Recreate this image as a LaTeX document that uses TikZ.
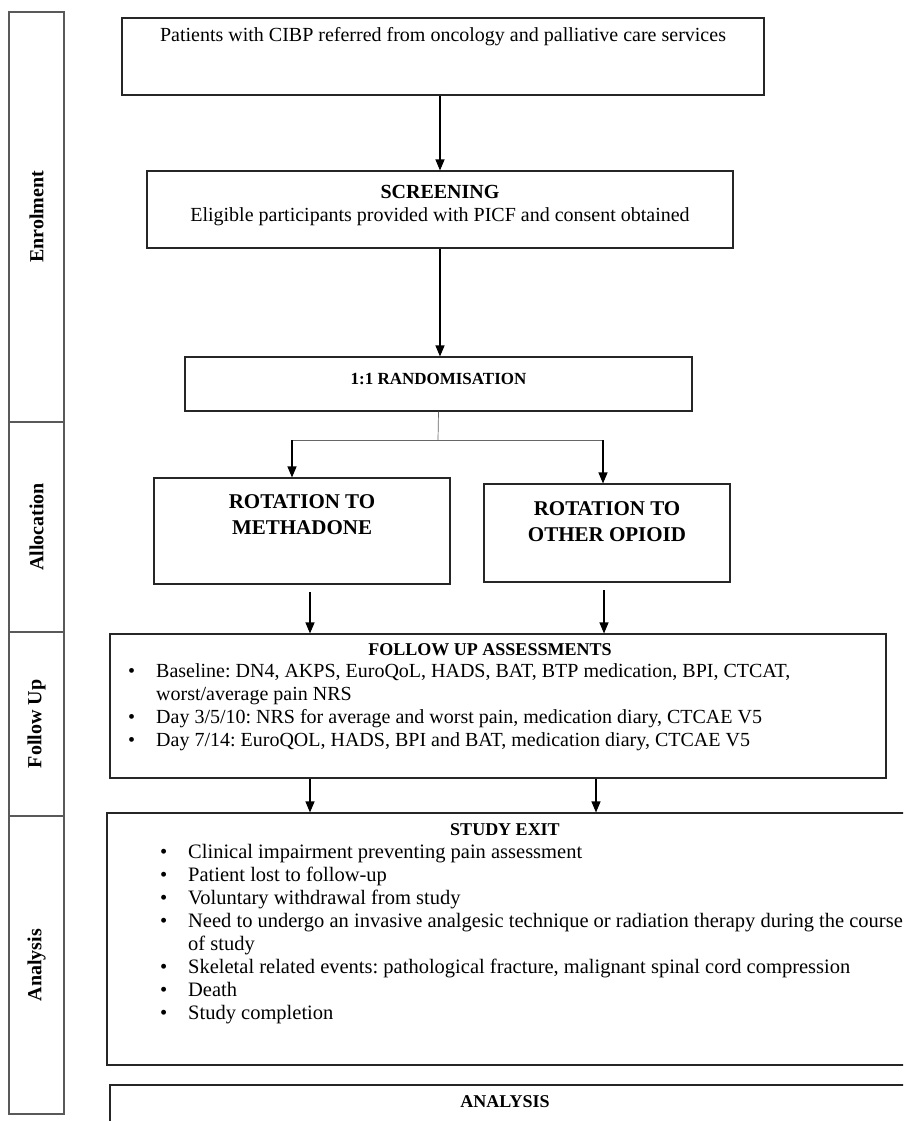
\documentclass[tikz,border=0pt]{standalone}
\usepackage{fontspec}
\setmainfont{Liberation Serif}
\usetikzlibrary{arrows.meta,positioning}
\frenchspacing

\newcommand{\itm}[1]{\makebox[28pt][l]{\textbullet}#1}
\newcommand{\cont}[1]{\hspace*{28pt}#1}

\begin{document}
\begin{tikzpicture}[x=1pt, y=-1pt, > = {Triangle[length=11pt,width=9pt]},
    box/.style = {draw=black!85, line width=1.1pt, inner sep=0pt},
    stage/.style = {draw=black!65, line width=1.1pt, inner sep=0pt, rotate=90, minimum height=55pt, font=\bfseries\fontsize{20}{24}\selectfont},
    txt/.style = {inner sep=0pt, font=\fontsize{20}{23}\selectfont},
    head/.style = {inner sep=0pt, font=\bfseries\fontsize{17}{20}\selectfont},
    list/.style = {inner sep=0pt, anchor=base west, align=left, font=\fontsize{20}{22.8}\selectfont},
    arrow/.style = {->, line width=1.1pt},
    thinline/.style = {draw=black!60, line width=0.7pt}]

    \useasboundingbox (0,0) rectangle (903,1121);
    \clip (0,0) rectangle (903,1121);

    % stages
    \node[stage, minimum width=410pt] (enrol) at (36.5,217) {Enrolment};
    \node[stage, minimum width=210pt] (alloc) at (36.5,527) {Allocation};
    \node[stage, minimum width=184pt] (follow) at (36.5,724) {Follow Up};
    \node[stage, minimum width=298pt] (anal) at (36.5,965) {Analysis};

    % enrolment
    \node[box, minimum width=642pt, minimum height=77pt] (patients) at (443,56.5) {};
    \node[txt] (patientstxt) at (443,37) {Patients with CIBP referred from oncology and palliative care services};

    \node[box, minimum width=586pt, minimum height=77pt] (screen) at (440,209.5) {};
    \node[txt, align=center] (screentxt) at (440,206) {\textbf{SCREENING}\\Eligible participants provided with PICF and consent obtained};

    \node[box, minimum width=507pt, minimum height=54pt] (random) at (438.5,384) {};
    \node[head] (randomtxt) at (438.5,379) {1:1 RANDOMISATION};

    \draw[arrow] (screen.north |- patients.south) -- (screen.north);
    \draw[arrow] (screen.south) -- (screen.south |- random.north);

    % allocation
    \node[box, minimum width=296pt, minimum height=106pt] (metha) at (302,531) {};
    \node[head, align=center, font=\bfseries\fontsize{21}{26}\selectfont] (methatxt) at (302,515) {ROTATION TO\\METHADONE};

    \node[box, minimum width=246pt, minimum height=98pt] (other) at (607,533) {};
    \node[head, align=center, font=\bfseries\fontsize{21}{26}\selectfont] (othertxt) at (607,522) {ROTATION TO\\OTHER OPIOID};

    \coordinate (split) at (438,440);
    \coordinate (splitL) at (292,440);
    \coordinate (splitR) at (603,440);
    \draw[thinline] (random.south) -- (split);
    \draw[thinline] (splitL) -- (splitR);
    \draw[arrow] (splitL) -- (splitL |- metha.north);
    \draw[arrow] (splitR) -- (splitR |- other.north);

    % follow up
    \node[box, minimum width=776pt, minimum height=144pt] (assess) at (498,706) {};
    \node[head, font=\bfseries\fontsize{18}{21}\selectfont] (assesstxt) at (490,650) {FOLLOW UP ASSESSMENTS};
    \node[list] (assesslist) at (128,746) {\itm{Baseline: DN4, AKPS, EuroQoL, HADS, BAT, BTP medication, BPI, CTCAT,}\\
        \cont{worst/average pain NRS}\\
        \itm{Day 3/5/10: NRS for average and worst pain, medication diary, CTCAE V5}\\
        \itm{Day 7/14: EuroQOL, HADS, BPI and BAT, medication diary, CTCAE V5}};

    \coordinate (methaout) at (310,592);
    \coordinate (otherout) at (604,590);
    \draw[arrow] (methaout) -- (methaout |- assess.north);
    \draw[arrow] (otherout) -- (otherout |- assess.north);

    % analysis
    \node[box, minimum width=810pt, minimum height=252pt] (exit) at (512,939) {};
    \node[head, font=\bfseries\fontsize{18}{21}\selectfont] (exittxt) at (505,830) {STUDY EXIT};
    \node[list, font=\fontsize{20.5}{23}\selectfont] (exitlist) at (160,1019) {\itm{Clinical impairment preventing pain assessment}\\
        \itm{Patient lost to follow-up}\\
        \itm{Voluntary withdrawal from study}\\
        \itm{Need to undergo an invasive analgesic technique or radiation therapy during the course}\\
        \cont{of study}\\
        \itm{Skeletal related events: pathological fracture, malignant spinal cord compression}\\
        \itm{Death}\\
        \itm{Study completion}};

    \coordinate (assessL) at (310,778);
    \coordinate (assessR) at (596,778);
    \draw[arrow] (assessL |- assess.south) -- (assessL |- exit.north);
    \draw[arrow] (assessR |- assess.south) -- (assessR |- exit.north);

    \node[box, minimum width=810pt, minimum height=60pt] (analysis) at (515,1115) {};
    \node[head, font=\bfseries\fontsize{18}{21}\selectfont] (analysistxt) at (505,1102) {ANALYSIS};

\end{tikzpicture}
\end{document}
